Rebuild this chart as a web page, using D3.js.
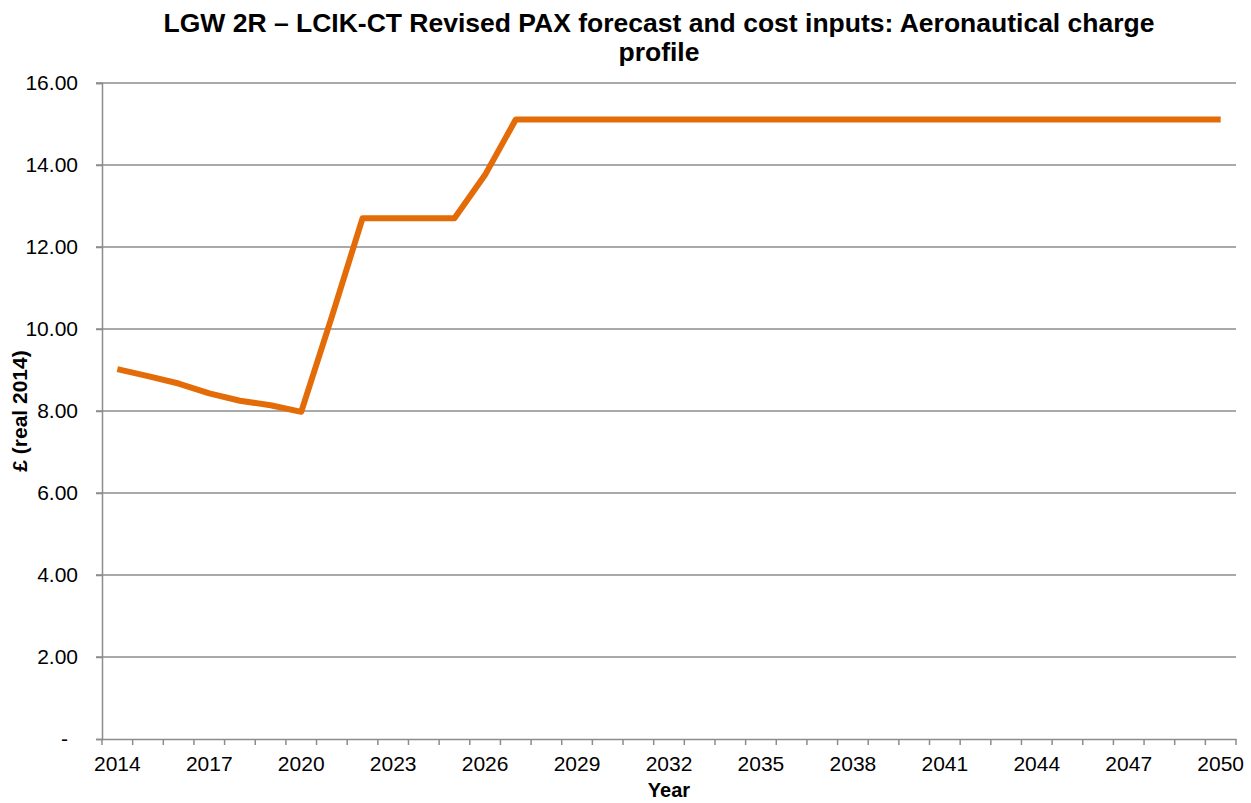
<!DOCTYPE html>
<html>
<head>
<meta charset="utf-8">
<script src="https://cdn.jsdelivr.net/npm/d3@7"></script>
<style>
  body { margin: 0; background: #fff; }
  svg { display: block; font-family: "Liberation Sans", Arial, sans-serif; }
</style>
</head>
<body>
<svg id="chart" width="1251" height="803"></svg>
<script>
const years = [2014,2015,2016,2017,2018,2019,2020,2021,2022,2023,2024,2025,2026,2027,2028,2029,2030,2031,2032,2033,2034,2035,2036,2037,2038,2039,2040,2041,2042,2043,2044,2045,2046,2047,2048,2049,2050];
const charge = [9.02,8.85,8.67,8.43,8.25,8.14,7.98,10.30,12.70,12.70,12.70,12.70,13.76,15.11,15.11,15.11,15.11,15.11,15.11,15.11,15.11,15.11,15.11,15.11,15.11,15.11,15.11,15.11,15.11,15.11,15.11,15.11,15.11,15.11,15.11,15.11,15.11];
const xTickLabels = [2014,2017,2020,2023,2026,2029,2032,2035,2038,2041,2044,2047,2050];
const yTicks = [0,2,4,6,8,10,12,14,16];
const titleLines = ["LGW 2R \u2013 LCIK-CT Revised PAX forecast and cost inputs: Aeronautical charge", "profile"];
const yTitle = "\u00a3 (real 2014)";
const xTitle = "Year";

const svg = d3.select("#chart");
const mLeft = 102, mRight = 1236, mTop = 83, mBottom = 739;
const gridColor = "#8c8c8c";

const x = d3.scaleBand().domain(years).range([mLeft, mRight]).padding(0);
const y = d3.scaleLinear().domain([0, 16]).range([mBottom, mTop]);

// gridlines
svg.append("g").selectAll("line").data(yTicks.filter(d => d > 0)).join("line")
  .attr("x1", mLeft - 6).attr("x2", mRight)
  .attr("y1", d => y(d)).attr("y2", d => y(d))
  .attr("stroke", gridColor).attr("stroke-width", 1.5);

// y axis
const yAxis = d3.axisLeft(y).tickValues(yTicks).tickSize(6).tickPadding(18)
  .tickFormat(d => d === 0 ? "-" : d3.format(".2f")(d));
const gy = svg.append("g").attr("transform", `translate(${mLeft},0)`).call(yAxis);
gy.select(".domain").attr("stroke", gridColor).attr("stroke-width", 1.5);
gy.selectAll(".tick line").attr("stroke", gridColor).attr("stroke-width", 1.5);
gy.selectAll(".tick text").attr("font-size", 21).attr("fill", "#000")
  .attr("font-family", "Liberation Sans, Arial, sans-serif");
gy.selectAll(".tick").filter(d => d === 0).select("text").attr("dx", -10);

// x axis labels
const xAxis = d3.axisBottom(x).tickValues(xTickLabels).tickSize(0).tickPadding(17);
const gx = svg.append("g").attr("transform", `translate(0,${mBottom})`).call(xAxis);
gx.select(".domain").attr("stroke", gridColor).attr("stroke-width", 1.5);
gx.selectAll(".tick text").attr("font-size", 21).attr("fill", "#000")
  .attr("font-family", "Liberation Sans, Arial, sans-serif");

// x tick marks at category boundaries
const edges = years.map(d => x(d)).concat([x(years[years.length - 1]) + x.bandwidth()]);
svg.append("g").selectAll("line").data(edges).join("line")
  .attr("x1", d => d).attr("x2", d => d)
  .attr("y1", mBottom).attr("y2", mBottom + 6)
  .attr("stroke", gridColor).attr("stroke-width", 1.5);

// line
const line = d3.line()
  .x((d, i) => x(years[i]) + x.bandwidth() / 2)
  .y(d => y(d));
svg.append("path").datum(charge)
  .attr("d", line)
  .attr("fill", "none")
  .attr("stroke", "#E36C09")
  .attr("stroke-width", 6)
  .attr("stroke-linejoin", "round");

// title
const t = svg.append("text").attr("text-anchor", "middle").attr("font-weight", "bold")
  .attr("font-size", 26.5).attr("fill", "#000");
t.selectAll("tspan").data(titleLines).join("tspan")
  .attr("x", 659).attr("y", (d, i) => 32 + i * 29).text(d => d);

// axis titles
svg.append("text").attr("transform", `translate(26.5,${(mTop + mBottom) / 2}) rotate(-90)`)
  .attr("text-anchor", "middle").attr("font-weight", "bold").attr("font-size", 21)
  .text(yTitle);
svg.append("text").attr("x", (mLeft + mRight) / 2).attr("y", 797)
  .attr("text-anchor", "middle").attr("font-weight", "bold").attr("font-size", 20)
  .text(xTitle);
</script>
</body>
</html>
